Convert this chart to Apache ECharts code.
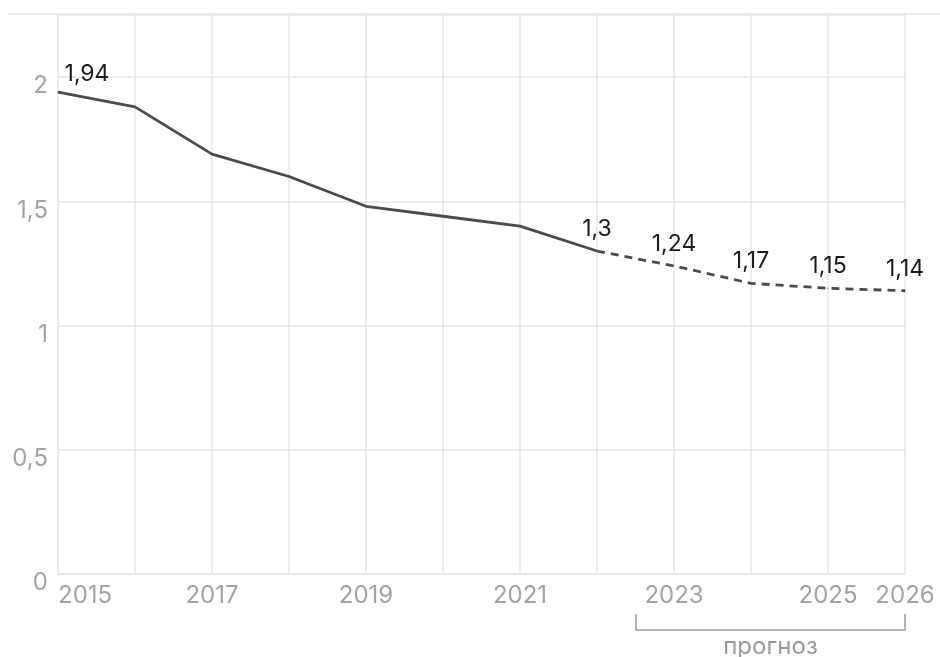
<!DOCTYPE html>
<html>
<head>
<meta charset="utf-8">
<script src="https://cdn.jsdelivr.net/npm/echarts@6/dist/echarts.min.js"></script>
<style>
html,body{margin:0;padding:0;background:#fff;}
#chart{width:940px;height:657px;}
</style>
</head>
<body>
<div id="chart"></div>
<script>
// ---- data ----
var years = ['2015','2016','2017','2018','2019','2020','2021','2022','2023','2024','2025','2026'];
var values = [1.94, 1.88, 1.69, 1.60, 1.48, 1.44, 1.40, 1.30, 1.24, 1.17, 1.15, 1.14];
var forecastFrom = 7;               // index where the dashed forecast starts (2022)
var labelledYears = ['2015','2022','2023','2024','2025','2026'];
var shownXTicks = ['2015','2017','2019','2021','2023','2025','2026'];
var yTicks = [0, 0.5, 1, 1.5, 2];
var forecastText = 'прогноз';

function fmt(v){ return String(v).replace('.', ','); }

var FONT = 'Inter, "Noto Sans", sans-serif';
var LINE = '#4b4b4b';

// build series data; labelFrom = first index allowed to carry a value label
function buildData(fromIdx, toIdx, labelFrom){
  return values.map(function(v, i){
    if (i < fromIdx || i > toIdx) return null;
    var show = i >= labelFrom && labelledYears.indexOf(years[i]) >= 0;
    var item = { value: v, label: { show: show } };
    if (i === 0) item.label.offset = [29, 4];
    return item;
  });
}

function labelStyle(){
  return {
    show: true,
    position: 'top',
    distance: 10,
    color: '#1c1c1c',
    fontSize: 23,
    fontFamily: FONT,
    formatter: function(p){ return fmt(p.value); }
  };
}

var chart = echarts.init(document.getElementById('chart'), null, {renderer:'canvas'});
var option = {
  animation: false,
  backgroundColor: '#fff',
  grid: { left: 58, right: 35, top: 15, bottom: 83, containLabel: false },
  xAxis: {
    type: 'category',
    data: years,
    boundaryGap: false,
    axisLine: { show: true, lineStyle: { color: '#e6e6e6', width: 1.5 } },
    axisTick: { show: false },
    splitLine: { show: true, interval: 0, lineStyle: { color: '#e6e6e6', width: 1.5 } },
    axisLabel: {
      interval: function(i, v){ return shownXTicks.indexOf(v) >= 0; },
      color: '#a3a3a3',
      fontSize: 24,
      fontFamily: FONT,
      margin: 10,
      alignMinLabel: 'left'
    }
  },
  yAxis: {
    type: 'value',
    min: 0,
    max: 2.25,
    interval: 0.5,
    axisLine: { show: false },
    axisTick: { show: false },
    splitLine: { show: true, lineStyle: { color: '#e6e6e6', width: 1.5 } },
    axisLabel: {
      color: '#a3a3a3',
      fontSize: 24,
      fontFamily: FONT,
      margin: 10,
      verticalAlign: 'top',
      lineHeight: 18,
      formatter: function(v){ return yTicks.indexOf(v) >= 0 ? fmt(v) : ''; }
    }
  },
  series: [
    {
      type: 'line',
      data: buildData(0, forecastFrom, 0),
      symbol: 'circle',
      symbolSize: 1,
      showSymbol: true,
      itemStyle: { color: LINE },
      lineStyle: { color: LINE, width: 2.8 },
      label: labelStyle(),
      z: 3
    },
    {
      type: 'line',
      data: buildData(forecastFrom, values.length - 1, forecastFrom + 1),
      symbol: 'circle',
      symbolSize: 1,
      showSymbol: true,
      itemStyle: { color: LINE },
      lineStyle: { color: LINE, width: 2.8, type: [8, 6] },
      label: labelStyle(),
      z: 3
    }
  ]
};
chart.setOption(option);

// decorations: top border line, forecast bracket and caption
var xa = chart.convertToPixel({xAxisIndex:0}, forecastFrom);
var xb = chart.convertToPixel({xAxisIndex:0}, forecastFrom + 1);
var bx0 = Math.round((xa + xb) / 2);
var bx1 = Math.round(chart.convertToPixel({xAxisIndex:0}, values.length - 1));
var by = 630;
chart.setOption({
  graphic: [
    { type: 'line', shape: { x1: 8, y1: 14, x2: 940, y2: 14 }, style: { stroke: '#e6e6e6', lineWidth: 1.5 }, silent: true },
    { type: 'polyline', shape: { points: [[bx0, 614], [bx0, by], [bx1, by], [bx1, 614]] },
      style: { stroke: '#9a9a9a', lineWidth: 1.5, fill: null }, silent: true },
    { type: 'text', x: (bx0 + bx1) / 2, y: 647,
      style: { text: forecastText, fill: '#9a9a9a', font: '24px ' + FONT, align: 'center', verticalAlign: 'middle' }, silent: true }
  ]
});
</script>
</body>
</html>
